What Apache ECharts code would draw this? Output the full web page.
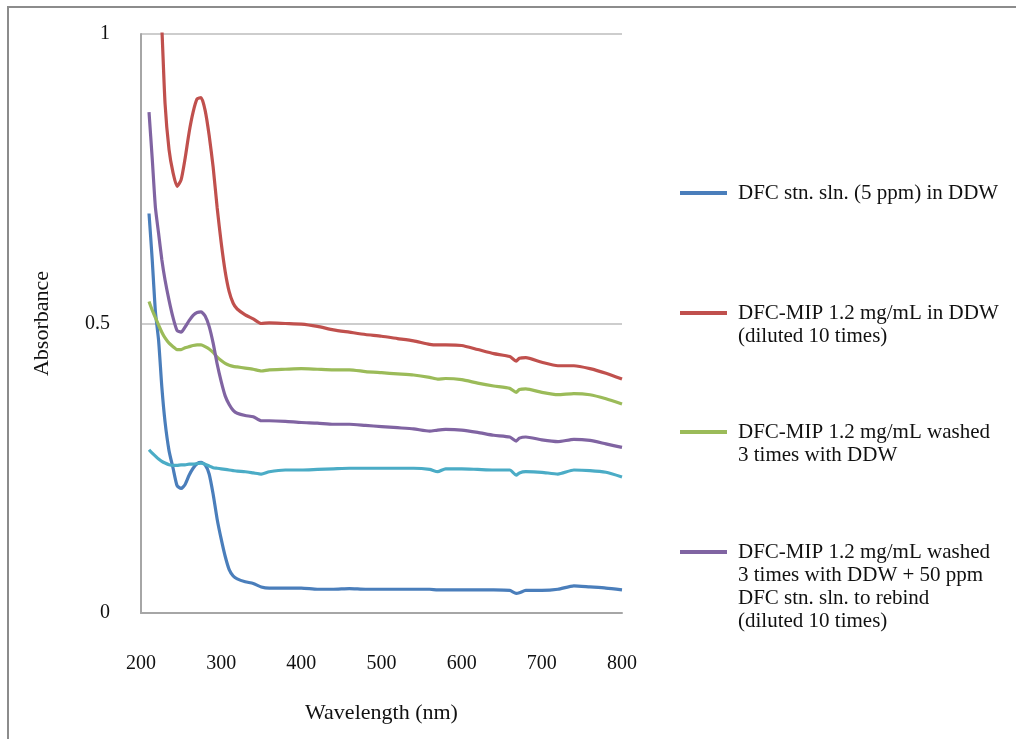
<!DOCTYPE html>
<html>
<head>
<meta charset="utf-8">
<script src="https://cdn.jsdelivr.net/npm/echarts@6/dist/echarts.min.js"></script>
<style>
  html, body { margin: 0; padding: 0; background: #fff; }
  #echart { width: 1016px; height: 739px; }
</style>
</head>
<body>
<div id="echart"></div>
<script>
// wavelength grid (nm), shared by all curves
var wavelength = [210, 214, 218, 222, 226, 230, 235, 240, 245, 250, 255, 260, 265, 270, 275, 280, 285, 290, 295, 300,
	305, 310, 315, 320, 330, 340, 350, 360, 380, 400, 420, 440, 460, 480, 500, 520, 540, 560, 570, 580,
	600, 620, 640, 660, 668, 672, 680, 700, 720, 740, 760, 780, 800];

var stnDDW = [0.69, 0.61, 0.52, 0.47, 0.39, 0.33, 0.28, 0.25, 0.22, 0.215, 0.222, 0.238, 0.250, 0.258, 0.260, 0.256, 0.240, 0.205, 0.162, 0.128,
	0.098, 0.075, 0.064, 0.059, 0.054, 0.051, 0.045, 0.043, 0.043, 0.043, 0.041, 0.041, 0.042, 0.041, 0.041, 0.041, 0.041, 0.041, 0.040, 0.040,
	0.040, 0.040, 0.040, 0.039, 0.034, 0.035, 0.039, 0.039, 0.041, 0.047, 0.045, 0.043, 0.040];

var mipDDW = [1.45, 1.32, 1.20, 1.10, 1.01, 0.88, 0.80, 0.76, 0.737, 0.748, 0.785, 0.830, 0.865, 0.888, 0.890, 0.868, 0.825, 0.770, 0.700, 0.640,
	0.590, 0.555, 0.535, 0.525, 0.515, 0.508, 0.500, 0.501, 0.500, 0.499, 0.495, 0.489, 0.485, 0.481, 0.478, 0.474, 0.470, 0.464, 0.463, 0.463,
	0.462, 0.455, 0.448, 0.443, 0.435, 0.440, 0.441, 0.433, 0.427, 0.427, 0.422, 0.414, 0.404];

var mipWashed = [0.538, 0.523, 0.510, 0.497, 0.485, 0.475, 0.466, 0.460, 0.455, 0.455, 0.458, 0.460, 0.462, 0.463, 0.463, 0.460, 0.456, 0.450, 0.442, 0.436,
	0.431, 0.428, 0.426, 0.425, 0.423, 0.421, 0.418, 0.420, 0.421, 0.422, 0.421, 0.420, 0.420, 0.417, 0.415, 0.413, 0.411, 0.407, 0.404, 0.405,
	0.403, 0.397, 0.392, 0.388, 0.381, 0.386, 0.387, 0.381, 0.377, 0.379, 0.377, 0.370, 0.361];

var mipRebind = [0.865, 0.785, 0.700, 0.655, 0.610, 0.575, 0.540, 0.510, 0.488, 0.485, 0.494, 0.505, 0.514, 0.519, 0.520, 0.513, 0.495, 0.466, 0.430, 0.400,
	0.375, 0.360, 0.350, 0.345, 0.341, 0.339, 0.332, 0.332, 0.331, 0.329, 0.328, 0.326, 0.326, 0.324, 0.322, 0.320, 0.318, 0.314, 0.316, 0.317,
	0.316, 0.312, 0.307, 0.304, 0.297, 0.302, 0.304, 0.299, 0.296, 0.300, 0.298, 0.292, 0.286];

// curve without a legend entry
var extraCurve = [0.282, 0.276, 0.271, 0.266, 0.262, 0.259, 0.256, 0.255, 0.255, 0.256, 0.256, 0.257, 0.257, 0.258, 0.259, 0.257, 0.254, 0.251, 0.250, 0.249,
	0.248, 0.247, 0.246, 0.245, 0.244, 0.242, 0.240, 0.244, 0.247, 0.247, 0.248, 0.249, 0.250, 0.250, 0.250, 0.250, 0.250, 0.248, 0.244, 0.249,
	0.249, 0.248, 0.247, 0.247, 0.238, 0.242, 0.244, 0.243, 0.240, 0.247, 0.246, 0.243, 0.235];

var names = [
	'DFC stn. sln. (5 ppm) in DDW',
	'DFC-MIP 1.2 mg/mL in DDW\n(diluted 10 times)',
	'DFC-MIP 1.2 mg/mL washed\n3 times with DDW',
	'DFC-MIP 1.2 mg/mL washed\n3 times with DDW + 50 ppm\nDFC stn. sln. to rebind\n(diluted 10 times)'
];
var xTicks = [200, 300, 400, 500, 600, 700, 800];
var yTicks = [0, 0.5, 1];

var font = "'Liberation Serif', 'Times New Roman', serif";

function pairs(vals) {
	return wavelength.map(function(w, i) { return [w, vals[i]]; });
}

function lineSeries(name, vals, color) {
	return {
		name: name,
		type: 'line',
		data: pairs(vals),
		showSymbol: false,
		symbol: 'none',
		smooth: 0.2,
		clip: true,
		color: color,
		lineStyle: { color: color, width: 3.2 }
	};
}

// legend: icon sits beside the first text line
var legendY = [193, 313, 432, 552];
var lineH = 23;
var legends = names.map(function(n, i) {
	var lines = n.split('\n').length;
	var h = 4 + lineH * (lines - 1);
	return {
		left: 680,
		top: legendY[i] - 11.5,
		orient: 'vertical',
		padding: 0,
		icon: 'path://M0,0L47,0L47,4L0,4Z M0,' + h + 'L0.01,' + h + 'L0,' + h + 'Z',
		itemWidth: 47,
		itemHeight: h,
		selectedMode: false,
		data: [n],
		textStyle: {
			fontFamily: font,
			fontSize: 21,
			color: '#111',
			lineHeight: lineH,
			padding: [0, 0, 0, 6]
		}
	};
});

var myChart = echarts.init(document.getElementById('echart'));
myChart.setOption({
	animation: false,
	backgroundColor: '#fff',
	graphic: [{
		type: 'rect',
		shape: { x: 8, y: 7, width: 1100, height: 800 },
		style: { fill: 'none', stroke: '#8c8c8c', lineWidth: 2 },
		silent: true
	}],
	legend: legends,
	grid: { left: 141, right: 394, top: 34, bottom: 126 },
	xAxis: {
		type: 'value',
		min: xTicks[0],
		max: xTicks[xTicks.length - 1],
		interval: 100,
		name: 'Wavelength (nm)',
		nameLocation: 'middle',
		nameGap: 89,
		nameTextStyle: { fontFamily: font, fontSize: 22, color: '#111' },
		axisLine: { lineStyle: { color: '#a6a6a6', width: 2 } },
		axisTick: { show: false },
		splitLine: { show: false },
		axisLabel: { fontFamily: font, fontSize: 20, color: '#111', margin: 41 }
	},
	yAxis: {
		type: 'value',
		min: yTicks[0],
		max: yTicks[yTicks.length - 1],
		interval: 0.5,
		name: 'Absorbance',
		nameLocation: 'middle',
		nameGap: 88,
		nameTextStyle: { fontFamily: font, fontSize: 22, color: '#111' },
		axisLine: { show: true, lineStyle: { color: '#a6a6a6', width: 2 } },
		axisTick: { show: false },
		splitLine: { show: true, lineStyle: { color: '#bdbdbd', width: 1.5 } },
		axisLabel: { fontFamily: font, fontSize: 20, color: '#111', margin: 31 }
	},
	series: [
		lineSeries(names[0], stnDDW, '#4a7ebb'),
		lineSeries(names[1], mipDDW, '#c0504d'),
		lineSeries(names[2], mipWashed, '#9bbb59'),
		lineSeries(names[3], mipRebind, '#8064a2'),
		lineSeries('', extraCurve, '#4bacc6')
	]
});
</script>
</body>
</html>
